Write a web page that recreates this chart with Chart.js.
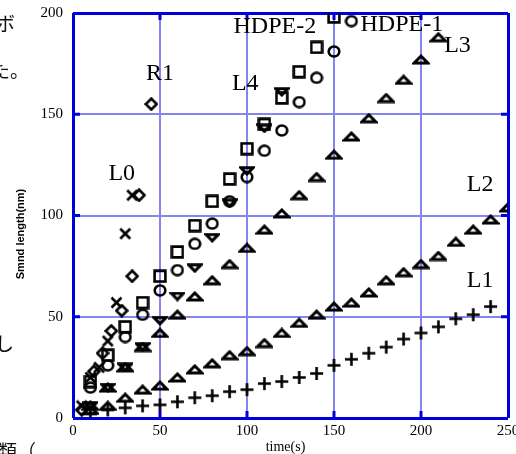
<!DOCTYPE html>
<html><head><meta charset="utf-8">
<script src="https://cdn.jsdelivr.net/npm/chart.js@4/dist/chart.umd.min.js"></script>
<style>
html,body{margin:0;padding:0;background:#fff;overflow:hidden;width:516px;height:454px;}
#wrap{position:relative;width:516px;height:454px;overflow:hidden;}
#c{position:absolute;left:0;top:0;}
.jp{position:absolute;font-family:"Noto Sans CJK JP";font-size:19px;color:#111;line-height:1;white-space:nowrap;}
</style></head><body>
<div id="wrap">
<canvas id="c" width="516" height="454"></canvas>
<div class="jp" style="left:-4px;top:13px">ボ</div>
<div class="jp" style="left:-9px;top:60px">た。</div>
<div class="jp" style="left:-5px;top:333px">し</div>
<div class="jp" style="left:-2px;top:441px">類（</div>
</div>
<script>
// ---- data (time in s, length) ----
const xTicks = [0, 50, 100, 150, 200, 250];
const yTicks = [0, 50, 100, 150, 200];

const L0_t = [5, 10, 15, 20, 25, 30, 34];
const L0_v = [6, 20, 25, 38, 57, 91, 110];

const R1_t = [5, 12, 17, 22, 28, 34, 38, 45];
const R1_v = [4, 23, 32, 43, 53, 70, 110, 155];

const HDPE2_t = [10, 20, 30, 40, 50, 60, 70, 80, 90, 100, 110, 120, 130, 140, 150];
const HDPE2_v = [18, 31, 45, 57, 70, 82, 95, 107, 118, 133, 145, 158, 171, 183, 198];

const HDPE1_t = [10, 20, 30, 40, 50, 60, 70, 80, 90, 100, 110, 120, 130, 140, 150, 160];
const HDPE1_v = [15, 26, 40, 51, 63, 73, 86, 96, 107, 119, 132, 142, 156, 168, 181, 196];

const L4_t = [10, 20, 30, 40, 50, 60, 70, 80, 90, 100, 110, 120];
const L4_v = [6, 15, 25, 35, 48, 60, 74, 89, 106, 122, 143, 161];

const L3_t = [10, 20, 30, 40, 50, 60, 70, 80, 90, 100, 110, 120, 130, 140, 150, 160, 170, 180, 190, 200, 210];
const L3_v = [6, 15, 25, 35, 42, 51, 60, 68, 76, 84, 93, 101, 110, 119, 130, 139, 148, 158, 167, 177, 188];

const L2_t = [10, 20, 30, 40, 50, 60, 70, 80, 90, 100, 110, 120, 130, 140, 150, 160, 170, 180, 190, 200, 210, 220, 230, 240, 250];
const L2_v = [4, 6, 10, 14, 16, 20, 24, 27, 31, 33, 37, 42, 47, 51, 55, 57, 62, 68, 72, 76, 80, 87, 93, 98, 104];

const L1_t = [10, 20, 30, 40, 50, 60, 70, 80, 90, 100, 110, 120, 130, 140, 150, 160, 170, 180, 190, 200, 210, 220, 230, 240];
const L1_v = [2, 4, 5, 6, 6.5, 8, 10, 11, 13, 14, 17, 18, 20, 22, 26, 29, 32, 35, 39, 42, 45, 49, 51, 55];

// series label anchors (data units)
const labelNames = ['R1', 'L0', 'HDPE-2', 'HDPE-1', 'L3', 'L4', 'L2', 'L1'];
const labelT = [50, 28, 116, 189, 221, 99, 234, 234];
const labelV = [170, 120.5, 193, 194, 184, 165, 115, 68];

const xTitle = 'time(s)';
const yTitle = 'Smnd length(nm)';

// ---- markers ----
function mk(kind) {
  const c = document.createElement('canvas');
  const s = { tri: [18, 11], dtri: [16, 10], sq: [14, 14], circ: [14, 13], dia: [14, 14], x: [13, 13], plus: [15, 15] }[kind];
  c.width = s[0]; c.height = s[1];
  const g = c.getContext('2d');
  g.strokeStyle = '#000'; g.lineWidth = 2.6; g.lineJoin = 'miter'; g.lineCap = 'butt';
  g.beginPath();
  if (kind === 'tri') { g.lineWidth = 3; g.moveTo(2, 9); g.lineTo(16, 9); g.lineTo(9, 2); g.closePath(); }
  else if (kind === 'dtri') { g.lineWidth = 3; g.moveTo(2, 1.8); g.lineTo(14, 1.8); g.lineTo(8, 8); g.closePath(); }
  else if (kind === 'sq') { g.rect(1.6, 1.6, 10.8, 10.8); }
  else if (kind === 'circ') { g.ellipse(7, 6.5, 5.3, 5, 0, 0, Math.PI * 2); }
  else if (kind === 'dia') { g.moveTo(7, 1.5); g.lineTo(12.5, 7); g.lineTo(7, 12.5); g.lineTo(1.5, 7); g.closePath(); }
  else if (kind === 'x') { g.moveTo(1.5, 1.5); g.lineTo(11.5, 11.5); g.moveTo(11.5, 1.5); g.lineTo(1.5, 11.5); }
  else if (kind === 'plus') { g.moveTo(7.5, 1); g.lineTo(7.5, 14); g.moveTo(1, 7.5); g.lineTo(14, 7.5); }
  g.stroke();
  return c;
}

function pts(t, v) { return t.map((x, i) => ({ x: x, y: v[i] })); }
function ds(label, t, v, kind) {
  return { label, data: pts(t, v), pointStyle: mk(kind), pointRadius: 6, showLine: false,
           borderColor: '#000', backgroundColor: '#000' };
}

const DARK = '#0000dd';
const LIGHT = '#8585f0';

const deco = {
  id: 'deco',
  afterDraw(chart) {
    const { ctx, chartArea: a, scales: { x, y } } = chart;
    ctx.save();
    ctx.strokeStyle = DARK; ctx.lineWidth = 3;
    ctx.beginPath();
    xTicks.slice(1, -1).forEach(v => {
      const px = x.getPixelForValue(v);
      ctx.moveTo(px, a.top); ctx.lineTo(px, a.top + 7);
      ctx.moveTo(px, a.bottom); ctx.lineTo(px, a.bottom - 7);
    });
    yTicks.slice(1, -1).forEach(v => {
      const py = y.getPixelForValue(v);
      ctx.moveTo(a.left, py); ctx.lineTo(a.left + 7, py);
      ctx.moveTo(a.right, py); ctx.lineTo(a.right - 7, py);
    });
    ctx.stroke();
    ctx.fillStyle = '#000';
    ctx.font = '24px "Liberation Serif"';
    ctx.textAlign = 'center'; ctx.textBaseline = 'middle';
    labelNames.forEach((n, i) => {
      ctx.fillText(n, x.getPixelForValue(labelT[i]), y.getPixelForValue(labelV[i]));
    });
    ctx.font = '14px "Liberation Serif"';
    ctx.fillText(xTitle, (a.left + a.right) / 2 - 5, 447);
    ctx.save();
    ctx.translate(21, 234);
    ctx.rotate(-Math.PI / 2);
    ctx.font = 'bold 11px "Liberation Sans"';
    ctx.fillText(yTitle, 0, 0);
    ctx.restore();
    ctx.restore();
  }
};

const tickFont = { family: 'Liberation Serif', size: 15 };

new Chart(document.getElementById('c'), {
  type: 'scatter',
  data: {
    datasets: [
      ds('L0', L0_t, L0_v, 'x'),
      ds('R1', R1_t, R1_v, 'dia'),
      ds('HDPE-2', HDPE2_t, HDPE2_v, 'sq'),
      ds('HDPE-1', HDPE1_t, HDPE1_v, 'circ'),
      ds('L4', L4_t, L4_v, 'dtri'),
      ds('L3', L3_t, L3_v, 'tri'),
      ds('L2', L2_t, L2_v, 'tri'),
      ds('L1', L1_t, L1_v, 'plus')
    ]
  },
  options: {
    responsive: false,
    animation: false,
    devicePixelRatio: 1,
    layout: { padding: { top: 13, right: 8, left: 0, bottom: 0 } },
    plugins: { legend: { display: false }, tooltip: { enabled: false } },
    scales: {
      x: {
        type: 'linear', min: 0, max: 250,
        afterBuildTicks: s => { s.ticks = xTicks.map(v => ({ value: v })); },
        ticks: { font: tickFont, color: '#000', padding: 4, maxRotation: 0 },
        grid: {
          drawTicks: false,
          color: c => (c.tick && (c.tick.value === 0 || c.tick.value === 250)) ? DARK : LIGHT,
          lineWidth: c => (c.tick && (c.tick.value === 0 || c.tick.value === 250)) ? 3 : 2
        },
        border: { display: false },
        afterFit: s => { s.height = 36; s.paddingLeft = 0; s.paddingRight = 0; }
      },
      y: {
        type: 'linear', min: 0, max: 200,
        afterBuildTicks: s => { s.ticks = yTicks.map(v => ({ value: v })); },
        ticks: { font: tickFont, color: '#000', padding: 10 },
        grid: {
          drawTicks: false,
          color: c => (c.tick && (c.tick.value === 0 || c.tick.value === 200)) ? DARK : LIGHT,
          lineWidth: c => (c.tick && (c.tick.value === 0 || c.tick.value === 200)) ? 3 : 2
        },
        border: { display: false },
        afterFit: s => { s.width = 73; s.paddingTop = 0; s.paddingBottom = 0; }
      }
    }
  },
  plugins: [deco]
});
</script>
</body></html>
